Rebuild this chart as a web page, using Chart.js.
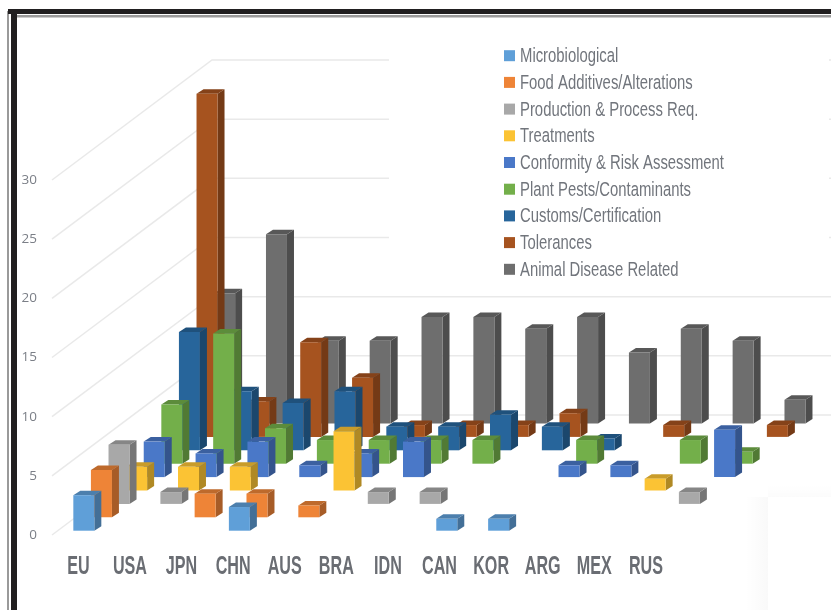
<!DOCTYPE html>
<html>
<head>
<meta charset="utf-8">
<style>
  html, body { margin: 0; padding: 0; background: #fff; }
  #wrap { width: 831px; height: 610px; position: relative; overflow: hidden; }
</style>
<script src="https://cdn.jsdelivr.net/npm/chart.js@4"></script>
</head>
<body>
<div id="wrap"><canvas id="chart" width="831" height="610"></canvas></div>
<script>
// Market groups along the floor of the 3D chart
const countries = ['EU','USA','JPN','CHN','AUS','BRA','IDN','CAN','KOR','ARG','MEX','RUS'];

// Measure counts per group, one list per depth row (front to back)
const microbiological = [3,0,0,2,0,0,0,1,1,0,0,0];
const foodAdditives   = [4,0,2,2,1,0,0,0,0,0,0,0];
const productionReq   = [5,1,0,0,0,1,1,0,0,0,0,1];
const treatments      = [2,2,2,0,5,0,0,0,0,0,1,0];
const conformity      = [3,2,3,1,2,3,0,0,1,1,0,4];
const plantPests      = [5,11,3,2,2,2,2,0,2,0,2,1];
const customs         = [10,5,4,5,2,2,3,2,1,0,0,0];
const tolerances      = [29,3,8,5,1,1,1,2,0,1,0,1];
const animalDisease   = [11,16,7,7,9,9,8,9,6,8,7,2];

const seriesNames = ['Microbiological','Food Additives/Alterations','Production & Process Req.','Treatments',
  'Conformity & Risk Assessment','Plant Pests/Contaminants','Customs/Certification','Tolerances','Animal Disease Related'];
const seriesValues = [microbiological,foodAdditives,productionReq,treatments,conformity,plantPests,customs,tolerances,animalDisease];
const seriesColors = ['#5f9fd8','#ee8437','#a8a8a8','#fbc334','#4a78c8','#73af4a','#27659b','#a6531f','#6e6e6e'];

// Projection of the 3D look
const ROW_DX = 17.6, ROW_DY = -13.4, ROW_BASE_DY = -4.3;
const BOX_DX = 7, BOX_DY = 4.5;
const WALL_DX = 160, WALL_DY = -120, WALL_START_X = 52, WALL_END_X = 831;

function shade(hex, f) {
  const n = parseInt(hex.slice(1), 16);
  const c = [n >> 16, (n >> 8) & 255, n & 255].map(v => Math.round(v * f));
  return `rgb(${c[0]},${c[1]},${c[2]})`;
}

// Squeezed text: draws with a horizontal scale so the face reads as a condensed display font
function narrowText(ctx, text, x, y, font, color, sx, align) {
  ctx.save();
  ctx.font = font;
  ctx.fillStyle = color;
  ctx.textBaseline = 'alphabetic';
  ctx.textAlign = align;
  ctx.translate(x, y);
  ctx.scale(sx, 1);
  ctx.fillText(text, 0, 0);
  ctx.restore();
}

const box3d = {
  id: 'box3d',
  beforeDraw(chart) {
    const { ctx } = chart;
    ctx.save();
    ctx.fillStyle = '#fff';
    ctx.fillRect(0, 0, 831, 610);
    // Frame of the slide
    ctx.fillStyle = '#9a9a9a';
    ctx.fillRect(7, 11, 2, 599);
    ctx.fillRect(16, 15, 815, 2.5);
    ctx.fillStyle = '#211f20';
    ctx.fillRect(8, 9, 823, 5);
    ctx.fillRect(11, 9, 6, 601);
    // Soft panel edge in the lower right corner
    let g = ctx.createLinearGradient(745, 0, 768, 0);
    g.addColorStop(0, 'rgba(0,0,0,0)');
    g.addColorStop(1, 'rgba(0,0,0,0.025)');
    ctx.fillStyle = g;
    ctx.fillRect(745, 497, 23, 113);
    g = ctx.createLinearGradient(0, 485, 0, 497);
    g.addColorStop(0, 'rgba(0,0,0,0)');
    g.addColorStop(1, 'rgba(0,0,0,0.015)');
    ctx.fillStyle = g;
    ctx.fillRect(768, 485, 63, 12);
    ctx.restore();
  },
  beforeDatasetsDraw(chart) {
    const { ctx, scales: { y } } = chart;
    ctx.save();
    ctx.strokeStyle = '#e9e9e9';
    ctx.lineWidth = 1.5;
    y.ticks.forEach(t => {
      const py = y.getPixelForValue(t.value);
      ctx.beginPath();
      ctx.moveTo(WALL_START_X, py);
      ctx.lineTo(WALL_START_X + WALL_DX, py + WALL_DY);
      ctx.lineTo(WALL_END_X, py + WALL_DY);
      ctx.stroke();
    });
    // White backdrop behind the legend
    ctx.fillStyle = '#fff';
    ctx.fillRect(389, 40, 440, 245);
    ctx.restore();
  },
  beforeDatasetDraw(chart, args) {
    const { ctx } = chart;
    const row = args.index;
    const color = seriesColors[row];
    ctx.save();
    ctx.translate(ROW_DX * row, ROW_DY * row + ROW_BASE_DY);
    args.meta.data.forEach(bar => {
      const p = bar.getProps(['x', 'y', 'base', 'width']);
      if (Math.abs(p.base - p.y) < 0.5) return;
      const l = p.x - p.width / 2, r = p.x + p.width / 2;
      ctx.fillStyle = shade(color, 0.7);
      ctx.beginPath();
      ctx.moveTo(r, p.y);
      ctx.lineTo(r + BOX_DX, p.y - BOX_DY);
      ctx.lineTo(r + BOX_DX, p.base - BOX_DY);
      ctx.lineTo(r, p.base);
      ctx.closePath();
      ctx.fill();
      ctx.fillStyle = shade(color, 0.8);
      ctx.beginPath();
      ctx.moveTo(l, p.y);
      ctx.lineTo(l + BOX_DX, p.y - BOX_DY);
      ctx.lineTo(r + BOX_DX, p.y - BOX_DY);
      ctx.lineTo(r, p.y);
      ctx.closePath();
      ctx.fill();
    });
  },
  afterDatasetDraw(chart) {
    chart.ctx.restore();
  },
  afterDraw(chart) {
    const { ctx, scales: { x } } = chart;
    // Country labels
    countries.forEach((name, i) => {
      narrowText(ctx, name, x.getPixelForTick(i) - 5.5 - i * 0.25, 574,
        'bold 26px "Liberation Sans"', '#6a6d73', 0.62, 'center');
    });
    // Legend
    seriesNames.forEach((name, i) => {
      const cy = 55.7 + i * 26.7;
      ctx.fillStyle = seriesColors[i];
      ctx.fillRect(504, cy - 5.5, 11, 11);
      narrowText(ctx, name, 520, cy + 6.5, '20.5px "Liberation Sans"', '#71757c', 0.725, 'left');
    });
  }
};

new Chart(document.getElementById('chart'), {
  type: 'bar',
  plugins: [box3d],
  data: {
    labels: countries,
    datasets: seriesNames.map((label, i) => ({
      label,
      data: seriesValues[i],
      backgroundColor: seriesColors[i],
      borderWidth: 0,
      grouped: false,
      clip: false,
      categoryPercentage: 1,
      barPercentage: 0.405
    }))
  },
  options: {
    responsive: false,
    animation: false,
    events: [],
    layout: { padding: { left: 0, right: 150.9, top: 180, bottom: 75 } },
    plugins: { legend: { display: false }, title: { display: false }, tooltip: { enabled: false } },
    scales: {
      x: {
        type: 'category',
        grid: { display: false },
        border: { display: false },
        ticks: { display: false },
        afterFit(s) { s.height = 0; }
      },
      y: {
        min: 0,
        max: 30,
        border: { display: false },
        grid: { display: false },
        ticks: {
          stepSize: 5,
          padding: 13,
          color: '#7b7f87',
          font: { family: '"Open Sans"', size: 13.5 }
        },
        afterFit(s) { s.width = 57.9; }
      }
    }
  }
});
</script>
</body>
</html>
